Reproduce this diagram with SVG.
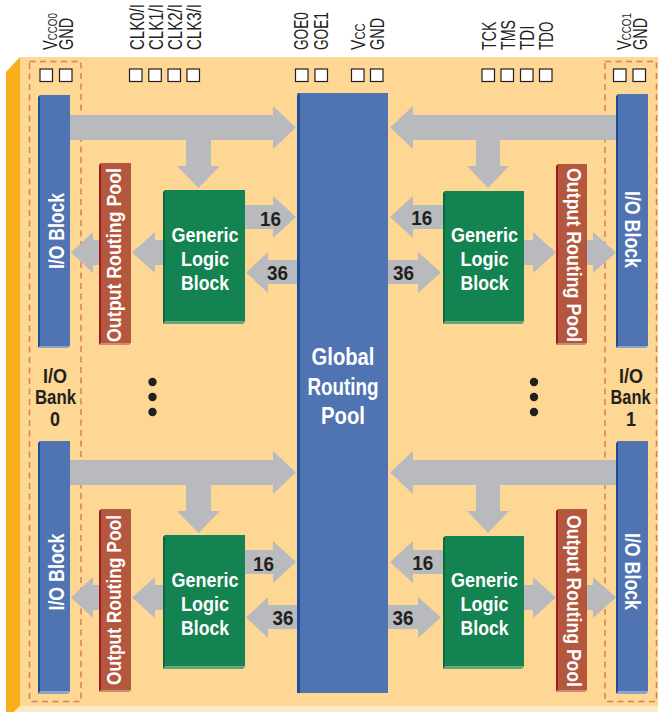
<svg xmlns="http://www.w3.org/2000/svg" width="658" height="712" viewBox="0 0 658 712">
<style>
.pin{fill:#fff;stroke:#231f20;stroke-width:1.2}
.lbl{font-family:"Liberation Sans",Arial,sans-serif;font-size:19.5px;fill:#231f20}
.w{font-family:"Liberation Sans",Arial,sans-serif;font-weight:700;fill:#fff;text-anchor:middle}
.d{font-family:"Liberation Sans",Arial,sans-serif;font-weight:700;fill:#231f20;text-anchor:middle}
.arr{fill:#b9babd}
.dash{fill:none;stroke:#d3805b;stroke-width:1.5;stroke-dasharray:6 4.5}
.blue{fill:#5073b2}.blueD{fill:#1b4f9c}.blueL{fill:#8aa3d3}
.grn{fill:#138352}.grnD{fill:#0b6a3b}.grnL{fill:#62a57c}
.orp{fill:#b5573f}.orpD{fill:#9b1b1f}.orpL{fill:#d08a70}
</style>

<!-- board -->
<g id="board">
<polygon points="6,72 20,57 20,706 14,712 6,712" fill="#f9ae1c"/>
<rect x="20" y="57" width="638" height="649" fill="#fed794"/>
<polygon points="20,706 658,706 658,712 14,712" fill="#fee9c6"/>
<rect class="dash" x="29.5" y="61.5" width="51.5" height="640"/>
<rect class="dash" x="605" y="61.5" width="51.5" height="640"/>
</g>

<!-- pins -->
<g id="pins">
<rect class="pin" x="40" y="69" width="12.5" height="12.5"/>
<rect class="pin" x="59.5" y="69" width="12.5" height="12.5"/>
<rect class="pin" x="129.5" y="69" width="12.5" height="12.5"/>
<rect class="pin" x="148.8" y="69" width="12.5" height="12.5"/>
<rect class="pin" x="168" y="69" width="12.5" height="12.5"/>
<rect class="pin" x="187" y="69" width="12.5" height="12.5"/>
<rect class="pin" x="295.5" y="69" width="12.5" height="12.5"/>
<rect class="pin" x="315" y="69" width="12.5" height="12.5"/>
<rect class="pin" x="351.5" y="69" width="12.5" height="12.5"/>
<rect class="pin" x="370.5" y="69" width="12.5" height="12.5"/>
<rect class="pin" x="482" y="69" width="12.5" height="12.5"/>
<rect class="pin" x="501" y="69" width="12.5" height="12.5"/>
<rect class="pin" x="520.5" y="69" width="12.5" height="12.5"/>
<rect class="pin" x="539.5" y="69" width="12.5" height="12.5"/>
<rect class="pin" x="613.5" y="69" width="12.5" height="12.5"/>
<rect class="pin" x="633" y="69" width="12.5" height="12.5"/>
</g>

<g id="pin-labels">
<text class="lbl" transform="translate(56.5,50) rotate(-90) scale(0.75,1)">V<tspan font-size="13">CCO0</tspan></text>
<text class="lbl" transform="translate(73,50) rotate(-90) scale(0.74,1)">GND</text>
<text class="lbl" transform="translate(144,50) rotate(-90) scale(0.77,1)">CLK0/I</text>
<text class="lbl" transform="translate(163,50) rotate(-90) scale(0.77,1)">CLK1/I</text>
<text class="lbl" transform="translate(182,50) rotate(-90) scale(0.77,1)">CLK2/I</text>
<text class="lbl" transform="translate(201,50) rotate(-90) scale(0.77,1)">CLK3/I</text>
<text class="lbl" transform="translate(308,50) rotate(-90) scale(0.7,1)">GOE0</text>
<text class="lbl" transform="translate(327.5,50) rotate(-90) scale(0.7,1)">GOE1</text>
<text class="lbl" transform="translate(364.5,50) rotate(-90) scale(0.8,1)">V<tspan font-size="14">CC</tspan></text>
<text class="lbl" transform="translate(383.5,50) rotate(-90) scale(0.74,1)">GND</text>
<text class="lbl" transform="translate(496,50) rotate(-90) scale(0.73,1)">TCK</text>
<text class="lbl" transform="translate(515.3,50) rotate(-90) scale(0.73,1)">TMS</text>
<text class="lbl" transform="translate(534.3,50) rotate(-90) scale(0.78,1)">TDI</text>
<text class="lbl" transform="translate(553,50) rotate(-90) scale(0.69,1)">TDO</text>
<text class="lbl" transform="translate(630.5,50) rotate(-90) scale(0.75,1)">V<tspan font-size="13">CCO1</tspan></text>
<text class="lbl" transform="translate(646.5,50) rotate(-90) scale(0.74,1)">GND</text>
</g>

<!-- connectors -->
<g id="connectors">
<polygon class="arr" points="70,115 273,115 273,106 296,127.5 273,149 273,140 211,140 211,166 220,166 198.5,188 177,166 186,166 186,140 70,140"/>
<polygon class="arr" points="245,205 273,205 273,196 296,217 273,238 273,229 245,229"/>
<polygon class="arr" points="297,260 268,260 268,252 246,272.5 268,293 268,284 297,284"/>
<polygon class="arr" points="163,240 155,240 155,232 132,252.5 155,273 155,265 163,265"/>
<polygon class="arr" points="99,240 93,240 93,232 71,252.5 93,273 93,265 99,265"/>
<polygon class="arr" points="616,115 413,115 413,106 390,127.5 413,149 413,140 500,140 500,166 509,166 488,188 467,166 476,166 476,140 616,140"/>
<polygon class="arr" points="443,205 413,205 413,196 390,217 413,238 413,229 443,229"/>
<polygon class="arr" points="388,260 418,260 418,252 441,272.5 418,293 418,284 388,284"/>
<polygon class="arr" points="524,240 533,240 533,232 556,252.5 533,273 533,265 524,265"/>
<polygon class="arr" points="587,240 593,240 593,232 616,252.5 593,273 593,265 587,265"/>
<g transform="translate(0,345)">
<polygon class="arr" points="70,115 273,115 273,106 296,127.5 273,149 273,140 211,140 211,166 220,166 198.5,188 177,166 186,166 186,140 70,140"/>
<polygon class="arr" points="245,205 273,205 273,196 296,217 273,238 273,229 245,229"/>
<polygon class="arr" points="297,260 268,260 268,252 246,272.5 268,293 268,284 297,284"/>
<polygon class="arr" points="163,240 155,240 155,232 132,252.5 155,273 155,265 163,265"/>
<polygon class="arr" points="99,240 93,240 93,232 71,252.5 93,273 93,265 99,265"/>
<polygon class="arr" points="616,115 413,115 413,106 390,127.5 413,149 413,140 500,140 500,166 509,166 488,188 467,166 476,166 476,140 616,140"/>
<polygon class="arr" points="443,205 413,205 413,196 390,217 413,238 413,229 443,229"/>
<polygon class="arr" points="388,260 418,260 418,252 441,272.5 418,293 418,284 388,284"/>
<polygon class="arr" points="524,240 533,240 533,232 556,252.5 533,273 533,265 524,265"/>
<polygon class="arr" points="587,240 593,240 593,232 616,252.5 593,273 593,265 587,265"/>
</g>
<text class="d" x="270.5" y="225.5" font-size="21" textLength="21" lengthAdjust="spacingAndGlyphs">16</text>
<text class="d" x="277.5" y="280" font-size="21" textLength="21" lengthAdjust="spacingAndGlyphs">36</text>
<text class="d" x="421.7" y="225" font-size="21" textLength="21" lengthAdjust="spacingAndGlyphs">16</text>
<text class="d" x="403.5" y="280" font-size="21" textLength="21" lengthAdjust="spacingAndGlyphs">36</text>
<text class="d" x="263.5" y="570.5" font-size="21" textLength="21" lengthAdjust="spacingAndGlyphs">16</text>
<text class="d" x="283" y="625" font-size="21" textLength="21" lengthAdjust="spacingAndGlyphs">36</text>
<text class="d" x="422.7" y="570" font-size="21" textLength="21" lengthAdjust="spacingAndGlyphs">16</text>
<text class="d" x="403" y="625" font-size="21" textLength="21" lengthAdjust="spacingAndGlyphs">36</text>
</g>

<!-- Global Routing Pool -->
<g id="grp">
<rect class="blue" x="297" y="93" width="91" height="600"/>
<polygon class="blueD" points="297,96 300,93 300,693 297,693"/>
<text class="w" x="343" y="365" font-size="23" textLength="63" lengthAdjust="spacingAndGlyphs">Global</text>
<text class="w" x="343" y="395" font-size="23" textLength="71" lengthAdjust="spacingAndGlyphs">Routing</text>
<text class="w" x="343" y="424" font-size="23" textLength="44" lengthAdjust="spacingAndGlyphs">Pool</text>
</g>

<!-- I/O blocks -->
<g id="io-tl">
<rect class="blue" x="40" y="95" width="30" height="251"/>
<polygon class="blueD" points="38,97 40,95 40,346 38,348"/>
<polygon class="blueL" points="38,348 40,346 70,346 68,348"/>
<text class="w" transform="translate(64,231) rotate(-90)" font-size="22" textLength="76" lengthAdjust="spacingAndGlyphs">I/O Block</text>
</g>
<g id="io-bl">
<rect class="blue" x="40" y="441" width="30" height="250.5"/>
<polygon class="blueD" points="38,443 40,441 40,691.5 38,694"/>
<polygon class="blueL" points="38,694 40,691.5 70,691.5 68,694"/>
<text class="w" transform="translate(63.5,572) rotate(-90)" font-size="22" textLength="77" lengthAdjust="spacingAndGlyphs">I/O Block</text>
</g>
<g id="io-tr">
<rect class="blue" x="618" y="94" width="30" height="252"/>
<polygon class="blueD" points="616,96 618,94 618,346 616,348"/>
<polygon class="blueL" points="616,348 618,346 648,346 646,348"/>
<text class="w" transform="translate(624.5,229.5) rotate(90)" font-size="22" textLength="77" lengthAdjust="spacingAndGlyphs">I/O Block</text>
</g>
<g id="io-br">
<rect class="blue" x="618" y="441" width="30" height="250.5"/>
<polygon class="blueD" points="616,443 618,441 618,691.5 616,694"/>
<polygon class="blueL" points="616,694 618,691.5 648,691.5 646,694"/>
<text class="w" transform="translate(625,571.5) rotate(90)" font-size="22" textLength="77" lengthAdjust="spacingAndGlyphs">I/O Block</text>
</g>

<!-- Output Routing Pools -->
<g id="orp-tl">
<rect class="orp" x="101" y="163" width="30" height="180"/>
<polygon class="orpD" points="99,165 101,163 101,343 99,345"/>
<polygon class="orpL" points="99,345 101,343 131,343 129,345"/>
<text class="w" transform="translate(121,255) rotate(-90)" font-size="20" textLength="174" lengthAdjust="spacingAndGlyphs">Output Routing Pool</text>
</g>
<g id="orp-bl">
<rect class="orp" x="101" y="509" width="30" height="181"/>
<polygon class="orpD" points="99,511 101,509 101,690 99,692"/>
<polygon class="orpL" points="99,692 101,690 131,690 129,692"/>
<text class="w" transform="translate(121,600) rotate(-90)" font-size="20" textLength="170" lengthAdjust="spacingAndGlyphs">Output Routing Pool</text>
</g>
<g id="orp-tr">
<rect class="orp" x="558" y="164" width="29" height="179"/>
<polygon class="orpD" points="556,166 558,164 558,343 556,345"/>
<polygon class="orpL" points="556,345 558,343 587,343 585,345"/>
<text class="w" transform="translate(566.5,255) rotate(90)" font-size="20" textLength="174" lengthAdjust="spacingAndGlyphs">Output Routing Pool</text>
</g>
<g id="orp-br">
<rect class="orp" x="558" y="509" width="29" height="181"/>
<polygon class="orpD" points="556,511 558,509 558,690 556,692"/>
<polygon class="orpL" points="556,692 558,690 587,690 585,692"/>
<text class="w" transform="translate(566.5,601) rotate(90)" font-size="20" textLength="172" lengthAdjust="spacingAndGlyphs">Output Routing Pool</text>
</g>

<!-- Generic Logic Blocks -->
<g id="glb-tl">
<rect class="grn" x="165" y="190" width="80" height="131.5"/>
<polygon class="grnD" points="163,192 165,190 165,321.5 163,324"/>
<polygon class="grnL" points="163,324 165,321.5 245,321.5 243,324"/>
<text class="w" x="205" y="241.5" font-size="21" textLength="67" lengthAdjust="spacingAndGlyphs">Generic</text>
<text class="w" x="205" y="265.5" font-size="21" textLength="48" lengthAdjust="spacingAndGlyphs">Logic</text>
<text class="w" x="205" y="289.5" font-size="21" textLength="48" lengthAdjust="spacingAndGlyphs">Block</text>
</g>
<g id="glb-tr">
<rect class="grn" x="445" y="191" width="79" height="130.5"/>
<polygon class="grnD" points="443,193 445,191 445,321.5 443,324"/>
<polygon class="grnL" points="443,324 445,321.5 524,321.5 522,324"/>
<text class="w" x="484.5" y="241.5" font-size="21" textLength="67" lengthAdjust="spacingAndGlyphs">Generic</text>
<text class="w" x="484.5" y="265.5" font-size="21" textLength="48" lengthAdjust="spacingAndGlyphs">Logic</text>
<text class="w" x="484.5" y="289.5" font-size="21" textLength="48" lengthAdjust="spacingAndGlyphs">Block</text>
</g>
<g id="glb-bl">
<rect class="grn" x="165" y="535" width="80" height="131.5"/>
<polygon class="grnD" points="163,537 165,535 165,666.5 163,669"/>
<polygon class="grnL" points="163,669 165,666.5 245,666.5 243,669"/>
<text class="w" x="205" y="586.5" font-size="21" textLength="67" lengthAdjust="spacingAndGlyphs">Generic</text>
<text class="w" x="205" y="610.5" font-size="21" textLength="48" lengthAdjust="spacingAndGlyphs">Logic</text>
<text class="w" x="205" y="634.5" font-size="21" textLength="48" lengthAdjust="spacingAndGlyphs">Block</text>
</g>
<g id="glb-br">
<rect class="grn" x="445" y="536" width="79" height="130.5"/>
<polygon class="grnD" points="443,538 445,536 445,666.5 443,669"/>
<polygon class="grnL" points="443,669 445,666.5 524,666.5 522,669"/>
<text class="w" x="484.5" y="586.5" font-size="21" textLength="67" lengthAdjust="spacingAndGlyphs">Generic</text>
<text class="w" x="484.5" y="610.5" font-size="21" textLength="48" lengthAdjust="spacingAndGlyphs">Logic</text>
<text class="w" x="484.5" y="634.5" font-size="21" textLength="48" lengthAdjust="spacingAndGlyphs">Block</text>
</g>

<!-- ellipses and bank labels -->
<g id="dots-l" fill="#231f20">
<circle cx="152.5" cy="382" r="4.2"/><circle cx="152.5" cy="397" r="4.2"/><circle cx="152.5" cy="412" r="4.2"/>
</g>
<g id="dots-r" fill="#231f20">
<circle cx="534" cy="382" r="4.2"/><circle cx="534" cy="397" r="4.2"/><circle cx="534" cy="412" r="4.2"/>
</g>
<g id="bank0">
<text class="d" x="55" y="383" font-size="21" textLength="24" lengthAdjust="spacingAndGlyphs">I/O</text>
<text class="d" x="55.5" y="404" font-size="21" textLength="41" lengthAdjust="spacingAndGlyphs">Bank</text>
<text class="d" x="55" y="425.5" font-size="21" textLength="10" lengthAdjust="spacingAndGlyphs">0</text>
</g>
<g id="bank1">
<text class="d" x="631" y="383" font-size="21" textLength="24" lengthAdjust="spacingAndGlyphs">I/O</text>
<text class="d" x="630.5" y="404" font-size="21" textLength="40" lengthAdjust="spacingAndGlyphs">Bank</text>
<text class="d" x="631" y="425.5" font-size="21" textLength="10" lengthAdjust="spacingAndGlyphs">1</text>
</g>
</svg>
